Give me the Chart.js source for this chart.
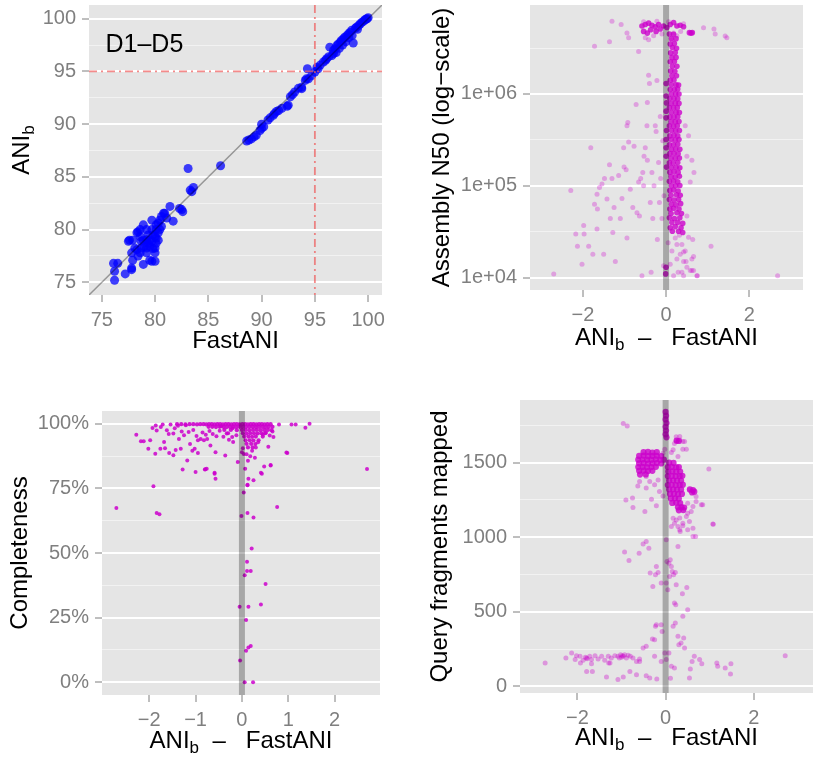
<!DOCTYPE html>
<html>
<head>
<meta charset="utf-8">
<script src="https://cdn.jsdelivr.net/npm/chart.js@4.4.0/dist/chart.umd.min.js"></script>
<style>
  html, body { margin: 0; padding: 0; background: #fff; }
  #fig { position: relative; width: 817px; height: 757px; }
  #fig canvas { position: absolute; }
</style>
</head>
<body>
<div id="fig">
  <canvas id="pA" width="410" height="378" style="left:0;top:0"></canvas>
  <canvas id="pB" width="407" height="378" style="left:410px;top:0"></canvas>
  <canvas id="pC" width="410" height="379" style="left:0;top:378px"></canvas>
  <canvas id="pD" width="407" height="379" style="left:410px;top:378px"></canvas>
</div>
<script>
// ---- data ----

// panel A: FastANI vs ANIb, pairs [FastANI, ANIb]
const aniPoints = [
  [76.2,75.2],[76.2,76.05],[76.1,76.8],[76.5,76.8],[77.2,75.8],[77.5,78.9],[77.8,76.35],[77.9,77.1],
  [78.3,78.1],[78.3,79.7],[78.6,80.0],[78.9,80.45],[78.9,76.7],[79.2,77.8],[79.5,79.0],[79.7,80.0],
  [79.7,77.0],[79.8,78.2],[80.0,79.35],[80.1,78.7],[80.3,79.7],[80.45,80.9],[80.8,81.55],[81.1,81.1],
  [81.4,82.2],[81.7,80.8],[80.0,77.8],[79.35,78.7],[78.7,78.25],[77.9,79.0],[78.4,77.5],[80.1,80.0],
  [79.7,80.9],[79.5,77.1],[79.2,79.03],[79.35,79.5],[78.9,79.0],[79.0,78.4],[79.5,78.4],[79.7,78.9],
  [79.8,79.5],[80.1,79.2],[80.3,79.0],[80.0,78.25],[79.2,78.25],[78.6,77.8],[78.7,78.9],[78.1,78.25],
  [77.8,77.8],[80.1,80.45],[80.45,80.0],[80.6,80.3],[79.2,80.0],[78.6,79.35],[80.0,77.0],[77.8,76.2],
  [78.4,79.8],[80.6,81.25],[80.9,81.55],[80.3,80.6],[77.6,79.0],
  [83.1,85.8],[86.15,86.06],[83.3,83.75],[83.6,84.0],[83.45,83.6],[82.3,82.0],[82.6,81.7],[82.5,81.9],
  [88.6,88.4],[88.8,88.5],[89.05,88.6],[89.3,88.8],[89.5,88.95],[89.85,89.4],[90.0,89.6],[90.2,89.75],
  [90.0,90.0],[90.6,90.4],[90.8,90.6],[91.1,90.85],[91.2,91.0],[91.4,91.2],[91.6,91.3],[91.9,91.5],
  [92.5,91.8],[92.4,91.7],[92.7,92.6],[92.9,92.8],[93.1,93.05],[93.45,93.4],[93.75,93.5],[93.77,93.37],
  [94.1,94.15],[94.2,94.3],[94.4,94.3],[94.3,95.25],[94.7,94.6],[95.0,94.95],[95.3,95.25],[95.2,95.4],
  [95.5,95.6],[95.8,95.9],[96.0,96.05],[96.1,96.2],[96.3,96.4],[96.4,97.3],[96.75,96.7],[96.75,97.0],
  [96.9,97.15],[97.05,97.45],[97.2,97.6],[97.4,97.8],[97.5,97.95],[97.7,98.1],[97.8,98.25],[98.0,98.4],
  [98.15,98.55],[98.3,98.7],[98.45,98.9],[98.6,97.7],[98.8,99.1],[98.9,99.2],[99.1,99.35],[99.25,99.5],
  [99.4,99.65],[99.55,99.75],[99.7,99.9],[99.9,100.0],[100.0,100.1],[99.8,99.95],[97.0,96.8],[97.3,97.2],
  [97.9,97.8],[98.2,98.2],[98.5,98.4],[99.0,99.0],[96.6,96.5],[97.6,97.5]
];
const aniCutoff = 95;
const aniTicks = [75, 80, 85, 90, 95, 100];
const aniMinor = [77.5, 82.5, 87.5, 92.5, 97.5];

// panel B: ANIb - FastANI vs assembly N50, pairs [diff, N50]
const n50Sparse = [
  [-2.70,1.1e4],[-2.29,8.9e4],[-2.17,3.0e4],[-2.13,2.2e4],[-2.02,1.4e4],[-1.98,3.7e4],[-1.97,3.0e4],[-1.86,2.2e4],
  [-1.81,2.6e5],[-1.76,1.8e4],[-1.72,6.3e4],[-1.66,3.4e4],[-1.65,5.6e4],[-1.60,9.6e4],[-1.50,1.8e4],[-1.48,1.2e5],
  [-1.42,7.2e4],[-1.36,1.7e5],[-1.34,4.4e4],[-1.30,1.2e5],[-1.28,3.1e4],[-1.25,5.8e4],[-1.22,1.5e4],[-1.14,1.3e5],
  [-1.10,4.4e4],[-1.06,7.3e4],[-1.01,1.6e5],[-0.96,1.5e5],[-0.94,4.5e5],[-0.92,4.9e5],[-0.94,2.7e4],[-0.90,3.0e5],
  [-0.86,9.2e4],[-0.80,5.8e4],[-0.77,2.7e5],[-0.72,7.7e5],[-0.70,5.1e4],[-0.64,4.7e4],[-0.61,1.2e5],[-0.58,1.05e4],
  [-0.56,1.4e5],[-0.53,2.1e5],[-0.50,2.6e5],[-0.46,4.5e5],[-0.45,8.1e5],[-0.42,1.6e6],[-0.40,1.3e6],[-0.45,1.9e5],
  [-0.38,6.6e4],[-0.36,1.15e4],[-0.34,1.4e5],[-0.32,4.4e4],[-0.29,1.0e5],[-0.26,4.5e5],[-0.24,3.9e5],[-0.22,1.4e6],
  [-0.21,2.6e4],[-0.18,1.8e5],[-0.16,6.6e4],[-0.14,5.7e5],[-0.13,1.2e5],[-0.10,4.4e4],[-0.08,3.1e5],[-0.06,1.35e4],
  [-0.05,7.8e4],[-1.02,2.6e5],[-0.66,1.1e5],[-0.54,1.0e5],[-1.66,8.1e4],[-1.54,1.05e5],
  [-1.30,6.2e6],[-1.08,5.7e6],[-1.36,3.7e6],[-1.72,3.3e6],[-0.94,4.6e6],[-0.90,4.1e6],[-0.66,2.9e6],[0.90,5.25e6],
  [1.15,5.1e6],[1.18,4.5e6],[1.42,4.27e6],[1.46,4.1e6],[0.42,5.8e6],
  [-0.50,4.1e6],[-0.42,3.9e6],[-0.30,4.3e6],[-0.10,4.5e6],[0.18,4.6e6],[0.26,4.3e6],[0.14,3.9e6],[0.35,4.8e6],
  [-0.54,6.1e6],[-0.22,6.2e6],[0.06,6.1e6],
  [0.54,3.5e5],[0.62,1.9e5],[0.67,1.4e5],[0.58,1.1e5],[0.50,4.7e4],[0.64,2.6e4],[0.66,1.7e4],[0.62,1.2e4],
  [0.75,1.05e4],[1.08,2.2e4],[2.68,1.05e4],[0.48,1.5e4],[0.42,1.9e4],[0.38,1.15e4],[0.50,2.1e5],[0.46,4.5e5],
  [0.26,2.3e4],[0.34,1.8e4],[0.42,1.5e4],[0.50,1.3e4],[0.58,1.2e4],[0.29,1.15e4],[0.18,1.05e4],[0.10,1.4e4],
  [0.14,1.95e4],[0.26,1.6e4],[0.38,2.3e4],[0.46,1.95e4],[0.62,1.6e4],[0.74,1.05e4],[0.66,1.2e4],[0.54,2.75e4],
  [0.42,1.05e4],[0.22,2.7e4],[0.05,2.4e4],[0.32,2.9e4]
];
const n50Dense = [
  [0.15,3.2e4],[0.30,3.2e4],[0.40,3.1e4],[0.10,3.5e4],[0.22,3.6e4],[0.36,3.5e4],[0.14,4.0e4],[0.28,4.0e4],
  [0.40,3.9e4],[0.08,4.5e4],[0.20,4.4e4],[0.33,4.5e4],[0.12,5.0e4],[0.26,5.1e4],[0.37,5.0e4],[0.09,5.6e4],
  [0.18,5.7e4],[0.31,5.6e4],[0.13,6.3e4],[0.24,6.2e4],[0.35,6.4e4],[0.08,7.1e4],[0.19,7.0e4],[0.30,7.1e4],
  [0.12,7.9e4],[0.25,8.0e4],[0.34,7.9e4],[0.09,8.9e4],[0.18,9.0e4],[0.29,8.8e4],[0.13,1.0e5],[0.23,1.0e5],
  [0.33,1.01e5],[0.08,1.12e5],[0.18,1.13e5],[0.28,1.11e5],[0.12,1.26e5],[0.22,1.25e5],[0.32,1.27e5],[0.09,1.41e5],
  [0.19,1.42e5],[0.29,1.40e5],[0.13,1.58e5],[0.24,1.59e5],[0.33,1.57e5],[0.08,1.78e5],[0.17,1.77e5],[0.28,1.79e5],
  [0.12,2.0e5],[0.22,2.0e5],[0.32,2.01e5],[0.09,2.24e5],[0.19,2.25e5],[0.29,2.23e5],[0.13,2.5e5],[0.23,2.52e5],
  [0.33,2.5e5],[0.08,2.8e5],[0.18,2.8e5],[0.28,2.83e5],[0.12,3.2e5],[0.22,3.15e5],[0.31,3.2e5],[0.09,3.5e5],
  [0.19,3.56e5],[0.28,3.5e5],[0.13,4.0e5],[0.23,3.98e5],[0.32,4.0e5],[0.08,4.5e5],[0.18,4.46e5],[0.27,4.5e5],
  [0.12,5.0e5],[0.22,5.0e5],[0.31,5.02e5],[0.09,5.6e5],[0.19,5.6e5],[0.28,5.65e5],[0.13,6.3e5],[0.24,6.3e5],
  [0.32,6.28e5],[0.08,7.1e5],[0.18,7.08e5],[0.27,7.1e5],[0.12,7.9e5],[0.22,7.95e5],[0.31,7.9e5],[0.09,8.9e5],
  [0.19,8.9e5],[0.28,8.85e5],[0.13,1.0e6],[0.23,1.0e6],[0.31,1.0e6],[0.10,1.12e6],[0.20,1.12e6],[0.28,1.13e6],
  [0.13,1.26e6],[0.24,1.26e6],[0.30,1.25e6],[0.10,1.41e6],[0.19,1.42e6],[0.14,1.58e6],[0.25,1.58e6],[0.11,1.78e6],
  [0.21,1.77e6],[0.15,2.0e6],[0.26,2.0e6],[0.10,2.24e6],[0.20,2.25e6],[0.14,2.5e6],[0.24,2.5e6],[0.11,2.8e6],
  [0.22,2.82e6],[0.15,3.2e6],[0.25,3.15e6],[0.10,3.5e6],[0.20,3.55e6],[0.13,4.0e6],[0.24,4.0e6],[0.08,4.5e6],
  [0.18,4.47e6],
  [-0.58,5.5e6],[-0.50,5.7e6],[-0.42,5.9e6],[-0.34,5.6e6],[-0.26,5.4e6],[-0.18,5.7e6],[-0.54,4.8e6],[-0.45,4.6e6],
  [-0.37,5.0e6],[-0.24,4.8e6],[-0.14,5.1e6],[-0.06,5.5e6],[0.02,5.3e6],[0.10,5.7e6],[0.18,6.0e6],[0.26,5.5e6],
  [0.34,5.6e6],[0.42,5.4e6],[0.56,4.65e6],[0.60,4.6e6],[0.63,4.65e6],
  [0.0,1.3e6],[0.0,9.5e5],[0.01,8.0e5],[0.0,6.5e5],[0.0,5.5e5],[0.01,4.0e5],[0.0,3.2e5],[0.0,2.6e5],
  [0.0,2.1e5],[0.01,1.6e5],[-0.01,1.1e4],[0.0,1.3e4]
];
const diffTicks = [-2, 0, 2];
const n50Ticks = [1e4, 1e5, 1e6];
const n50Minor = [31623, 316228, 3162278];

// panel C: ANIb - FastANI vs completeness (%), pairs [diff, completeness]
const compSparse = [
  [-2.28,95.7],[-2.18,93.2],[-2.12,93.2],[-1.98,93.6],[-2.02,90.3],[-1.87,88.4],[-1.93,98.3],[-1.86,99.3],
  [-1.84,97.4],[-1.75,98.7],[-1.71,99.7],[-1.76,90.3],[-1.68,92.9],[-1.66,90.5],[-1.57,88.7],[-1.54,99.7],
  [-1.48,96.2],[-1.48,87.8],[-1.43,89.8],[-1.38,99.2],[-1.36,94.1],[-1.32,90.3],[-1.28,82.3],[-1.21,99.4],
  [-1.18,85.8],[-1.12,92.1],[-1.07,89.5],[-1.02,90.3],[-1.0,81.3],[-0.95,88.7],[-0.95,93.6],[-0.89,94.1],
  [-0.82,93.6],[-0.80,82.3],[-0.76,82.6],[-0.75,94.1],[-0.68,91.6],[-0.59,80.6],[-0.57,78.7],[-0.57,89.0],
  [-0.36,87.7],[-0.21,94.8],[-0.19,92.9],[-0.09,85.2],[0.0,89.0],[0.02,90.5],[0.04,88.3],[0.07,82.6],
  [0.13,85.7],[0.14,78.7],[0.25,78.1],[0.12,76.2],[0.43,80.6],[0.48,83.4],[0.57,91.1],[0.62,83.8],
  [0.98,88.7],[0.80,99.7],[1.07,99.7],[1.16,99.7],[1.37,98.4],[1.46,100.0],[2.70,82.5],[-1.91,75.8],
  [0.68,94.8],[-2.71,67.4],[-1.84,65.5],[-1.78,65.0],[0.76,67.8],[-0.01,64.3],[0.12,65.5],[0.25,63.7],
  [0.04,73.4],[0.12,76.4],[0.21,51.7],[0.11,46.6],[0.11,43.0],[0.19,43.0],[0.06,41.4],[0.51,38.0],
  [0.41,30.1],[-0.05,29.2],[0.14,29.2],[0.09,24.1],[0.19,14.0],[0.14,13.5],[0.09,12.2],[-0.04,8.4],
  [0.06,0.0],[0.24,0.0],[0.41,81.0],[0.62,84.0],[-0.79,82.4],[-0.59,81.0],[0.96,88.9],
  [-1.62,97.5],[-1.58,96.0],[-1.45,98.2],[-1.30,97.0],[-1.25,95.5],[-1.15,96.8],[-1.05,97.6],[-0.98,95.2],
  [-0.85,96.6],[-0.78,95.7],[-0.70,97.2],[-0.63,96.0],[-0.55,95.1],[-0.48,97.3],[-0.40,94.9],[-0.33,96.2],
  [-0.28,93.8],[-0.12,95.5],[0.45,95.8],[0.52,96.5],[0.60,95.4],[0.66,97.0],[0.35,92.8],[0.30,90.8],
  [0.22,89.5],[0.18,87.4],[0.28,86.8],[0.10,88.2],[-0.20,98.2],[-0.45,99.0]
];
const compDense = [
  [-1.40,99.8],[-1.31,99.8],[-1.22,99.7],[-1.13,99.8],[-1.05,99.8],[-0.97,99.7],[-0.90,99.8],[-0.83,99.8],
  [-0.77,99.7],[-0.71,99.8],[-0.65,99.8],[-0.59,99.7],[-0.53,99.8],[-0.47,99.8],[-0.41,99.7],[-0.35,99.8],
  [-0.29,99.8],[-0.23,99.7],[-0.17,99.8],[-0.11,99.8],[-0.05,99.7],[0.01,99.8],[0.07,99.8],[0.13,99.7],
  [0.19,99.8],[0.25,99.8],[0.31,99.7],[0.37,99.8],[0.43,99.8],[0.49,99.7],[0.55,99.8],[0.62,99.8],
  [-0.72,98.8],[-0.64,98.8],[-0.56,98.7],[-0.48,98.8],[-0.40,98.8],[-0.33,98.7],[-0.26,98.8],[-0.19,98.8],
  [-0.12,98.7],[-0.05,98.8],[0.02,98.8],[0.09,98.7],[0.16,98.8],[0.23,98.8],[0.30,98.7],[0.37,98.8],
  [0.44,98.8],[0.51,98.7],[0.58,98.8],[0.66,98.8],
  [-0.38,97.6],[-0.24,97.6],[-0.11,97.5],[0.0,97.6],[0.08,97.6],[0.16,97.5],[0.24,97.6],[0.32,97.6],
  [0.40,97.5],[0.48,97.6],[0.56,97.6],[0.64,97.5],
  [-0.30,96.3],[0.02,96.3],[0.10,96.2],[0.18,96.3],[0.26,96.3],[0.34,96.2],[0.42,96.3],[0.50,96.3],
  [0.05,95.0],[0.14,95.0],[0.22,94.9],[0.30,95.0],[0.45,95.0],
  [0.08,93.6],[0.17,93.6],[0.25,93.5],[0.36,93.6],[0.10,92.2],[0.20,92.2],[0.29,92.1],[0.13,90.8],[0.23,90.8]
];
const compDiffTicks = [-2, -1, 0, 1, 2];
const compTicks = [0, 25, 50, 75, 100];
const compMinor = [12.5, 37.5, 62.5, 87.5];

// panel D: ANIb - FastANI vs query fragments mapped, pairs [diff, fragments]
const fragSparse = [
  [-0.96,1763],[-0.87,1745],[0.24,1674],[0.32,1652],[0.39,1641],[0.20,1629],[0.98,1458],[1.08,1087],
  [0.84,1217],[0.68,1004],[0.62,1060],[0.54,1105],[0.39,1094],[0.33,1038],[0.24,1116],[0.17,1127],
  [0.28,1071],[0.47,1138],[0.58,1172],[0.69,1272],[0.50,1228],[0.015,982],[-0.44,971],[-0.38,926],
  [-0.60,893],[-0.93,900],[-0.83,844],[-0.21,804],[-0.17,763],[-0.35,759],[-0.23,748],[-0.29,670],
  [-0.10,692],[0.03,837],[0.075,826],[0.105,848],[0.13,804],[0.15,770],[0.18,748],[0.22,763],
  [0.09,737],[0.015,692],[0.05,647],[0.24,681],[0.48,663],[0.38,621],[0.20,558],[0.23,547],
  [0.50,513],[0.39,469],[0.22,424],[0.17,402],[-0.23,402],[-0.21,413],[-0.30,317],[-0.25,312],
  [-0.10,413],[-0.08,368],[0.28,335],[0.41,324],[0.35,290],[0.43,257],[0.30,279],[0.075,223],
  [0.015,179],[0.13,134],[0.20,123],[-0.10,167],[-0.02,223],[-0.44,268],[-0.51,257],[-0.25,201],
  [-0.59,167],[-0.66,78],[-0.44,71],[-0.36,56],[-0.20,49],[0.11,54],[0.54,56],[0.56,116],
  [0.65,201],[0.60,167],[0.77,179],[0.82,152],[1.16,156],[1.18,134],[1.35,123],[1.48,152],
  [1.47,83],[2.71,205],[-2.73,156],[-2.13,223],[-2.02,205],[-2.26,190],
  [-2.05,179],[-1.94,201],[-1.87,174],[-1.79,190],[-1.72,201],[-1.68,179],[-1.60,205],[-1.53,183],
  [-1.45,201],[-1.38,174],[-1.30,201],[-1.26,156],[-1.23,190],[-1.15,205],[-1.08,201],[-1.02,212],
  [-0.96,201],[-0.93,212],[-0.89,190],[-0.85,208],[-0.80,201],[-0.74,190],[-0.66,167],[-0.59,183],
  [-1.93,156],[-1.79,100],[-1.34,62],[-0.96,62],[-1.08,45],[-0.81,100],[-1.29,156],[-1.68,152],
  [-1.66,100],[-1.0,195],[-0.98,205],[-1.05,190],[-1.78,185],[-1.82,195],
  [0.24,1641],[0.32,1675],[0.43,1641],[0.17,1586],[0.39,1590],[0.47,1590],[0.28,1541],[0.13,1568],
  [-0.59,1373],[-0.63,1344],[-0.44,1329],[-0.36,1373],[-0.25,1351],[-0.14,1306],[-0.32,1255],[-0.21,1210],
  [-0.90,1250],[-0.75,1262],[-0.74,1199],[-0.47,1172],[-0.06,1277],[-0.17,1384],[-0.44,1407],[0.54,1317],
  [0.69,1239],[0.81,1217],[0.62,1206],[0.50,1161],[0.32,1128],[0.20,1094],[0.39,1076],[0.50,1049],
  [0.62,1005],[0.32,1049],[0.13,1071],[1.07,1088],[0.28,938],[-0.06,1563],[-0.02,1590],[-0.51,955]
];
const fragDense = [
  [-0.50,1570],[-0.40,1572],[-0.30,1568],[-0.20,1570],
  [-0.60,1545],[-0.50,1547],[-0.40,1543],[-0.30,1545],[-0.20,1546],[-0.10,1544],
  [-0.62,1520],[-0.52,1521],[-0.42,1519],[-0.32,1520],[-0.22,1522],[-0.12,1519],[-0.04,1520],
  [-0.60,1495],[-0.50,1496],[-0.40,1494],[-0.30,1495],[-0.20,1497],[-0.10,1494],
  [-0.62,1470],[-0.52,1471],[-0.42,1469],[-0.32,1470],[-0.22,1472],
  [-0.60,1445],[-0.50,1446],[-0.40,1444],[-0.30,1445],[-0.58,1420],[-0.45,1421],
  [0.08,1500],[0.18,1498],
  [0.05,1470],[0.14,1471],[0.24,1469],[0.30,1470],
  [0.06,1440],[0.15,1441],[0.24,1439],[0.33,1440],
  [0.05,1410],[0.14,1411],[0.23,1409],[0.32,1410],[0.38,1412],
  [0.08,1380],[0.17,1381],[0.26,1379],[0.35,1380],
  [0.05,1350],[0.14,1351],[0.23,1349],[0.32,1350],[0.39,1352],
  [0.08,1320],[0.17,1321],[0.26,1319],[0.35,1320],
  [0.10,1290],[0.19,1291],[0.28,1289],[0.37,1290],
  [0.12,1260],[0.21,1261],[0.30,1259],
  [0.15,1230],[0.24,1231],[0.33,1229],
  [0.28,1200],[0.36,1201],[0.42,1199],[0.30,1180],[0.40,1182],
  [0.55,1320],[0.62,1315],[0.60,1300],[0.65,1305],[0.25,1648],[0.30,1645],
  [0.0,1840],[0.01,1815],[0.0,1790],[0.02,1765],[0.0,1740],[0.01,1715],[0.0,1690],[0.02,1670]
];
const fragTicks = [0, 500, 1000, 1500];
const fragMinor = [250, 750, 1250, 1750];

// ---- styling helpers ----
const FONT = '"Liberation Sans", Arial, Helvetica, sans-serif';
Chart.defaults.font.family = FONT;

const minusFmt = v => (v < 0 ? '\u2212' + (-v) : String(v));

function makeScale(axis, o) {
  const majors = new Set(o.major);
  const all = [...o.major, ...(o.minor || [])].sort((a, b) => a - b);
  const isMajor = c => c.tick && majors.has(c.tick.value);
  return {
    type: o.log ? 'logarithmic' : 'linear',
    min: o.min, max: o.max,
    border: { display: false },
    afterBuildTicks: s => { s.ticks = all.map(v => ({ value: v })); },
    afterFit: s => {
      if (axis === 'x') s.height = o.size; else s.width = o.size;
      // keep the plot box where it is: no extra room for edge labels
      s.paddingTop = s.paddingBottom = s.paddingLeft = s.paddingRight = 0;
    },
    ticks: {
      autoSkip: false, maxRotation: 0, minRotation: 0,
      color: '#7F7F7F', font: { family: FONT, size: 20 }, padding: 6,
      callback: v => (majors.has(v) ? o.fmt(v) : '')
    },
    grid: {
      drawOnChartArea: !!o.grid,
      color: c => (isMajor(c) ? '#FFFFFF' : '#F2F2F2'),
      lineWidth: c => (isMajor(c) ? 2 : 1),
      tickColor: c => (isMajor(c) ? '#7F7F7F' : 'rgba(0,0,0,0)'),
      tickLength: 7, tickWidth: 1
    }
  };
}

function drawRuns(ctx, runs, cx, base, rotate) {
  const parts = runs.map(r => {
    const size = r.sub ? 17 : 24;
    ctx.font = size + 'px ' + FONT;
    return { t: r.t, size, w: ctx.measureText(r.t).width, dy: r.sub ? 5 : 0 };
  });
  const total = parts.reduce((s, p) => s + p.w, 0);
  ctx.save();
  if (rotate) { ctx.translate(base, cx); ctx.rotate(-Math.PI / 2); }
  else { ctx.translate(cx, base); }
  ctx.fillStyle = '#000';
  ctx.textBaseline = 'alphabetic';
  ctx.textAlign = 'left';
  let x = -total / 2;
  parts.forEach(p => {
    ctx.font = p.size + 'px ' + FONT;
    ctx.fillText(p.t, x, p.dy);
    x += p.w;
  });
  ctx.restore();
}

const ggDecor = {
  id: 'ggDecor',
  beforeDraw(chart) {
    const { ctx, chartArea: a } = chart;
    ctx.save();
    ctx.fillStyle = '#E5E5E5';
    ctx.fillRect(a.left, a.top, a.right - a.left, a.bottom - a.top);
    ctx.restore();
  },
  afterDatasetsDraw(chart, args, o) {
    const { ctx, chartArea: a, scales: { x, y } } = chart;
    ctx.save();
    ctx.beginPath();
    ctx.rect(a.left, a.top, a.right - a.left, a.bottom - a.top);
    ctx.clip();
    (o.lines || []).forEach(l => {
      ctx.strokeStyle = l.color;
      ctx.lineWidth = l.width;
      ctx.setLineDash(l.dash || []);
      ctx.beginPath();
      if (l.v !== undefined) {
        const px = x.getPixelForValue(l.v);
        ctx.moveTo(px, a.top); ctx.lineTo(px, a.bottom);
      } else if (l.h !== undefined) {
        const py = y.getPixelForValue(l.h);
        ctx.moveTo(a.left, py); ctx.lineTo(a.right, py);
      } else if (l.identity) {
        ctx.moveTo(x.getPixelForValue(x.min), y.getPixelForValue(x.min));
        ctx.lineTo(x.getPixelForValue(x.max), y.getPixelForValue(x.max));
      }
      ctx.stroke();
    });
    ctx.restore();
    if (o.label) {
      ctx.save();
      ctx.font = '25px ' + FONT;
      ctx.fillStyle = '#000';
      ctx.textAlign = 'center';
      ctx.textBaseline = 'alphabetic';
      ctx.fillText(o.label.text, x.getPixelForValue(o.label.x), y.getPixelForValue(o.label.y));
      ctx.restore();
    }
  },
  afterDraw(chart, args, o) {
    const { ctx, chartArea: a } = chart;
    if (o.xTitle) drawRuns(ctx, o.xTitle.runs, (a.left + a.right) / 2, o.xTitle.base, false);
    if (o.yTitle) drawRuns(ctx, o.yTitle.runs, (a.top + a.bottom) / 2, o.yTitle.base, true);
  }
};

const diffRuns = [{ t: 'ANI' }, { t: 'b', sub: true }, { t: '  \u2013   FastANI' }];

function pts(list) { return list.map(p => ({ x: p[0], y: p[1] })); }

function scatter(id, datasets, scales, padding, decor) {
  return new Chart(document.getElementById(id), {
    type: 'scatter',
    data: { datasets },
    options: {
      responsive: false, animation: false, events: [],
      layout: { padding },
      scales,
      plugins: { legend: { display: false }, tooltip: { enabled: false }, ggDecor: decor }
    },
    plugins: [ggDecor]
  });
}

// panel A
scatter('pA', [
  { data: pts(aniPoints), pointRadius: 4.5, borderWidth: 0, backgroundColor: 'rgba(0,0,255,0.75)' }
], {
  x: makeScale('x', { min: 73.8, max: 101.3, major: aniTicks, fmt: String, size: 83 }),
  y: makeScale('y', { min: 73.8, max: 101.3, major: aniTicks, minor: aniMinor, fmt: String, grid: true, size: 89 })
}, { left: 0, right: 28, top: 5, bottom: 0 }, {
  lines: [
    { identity: true, color: 'rgba(0,0,0,0.35)', width: 1.5 },
    { v: aniCutoff, color: 'rgba(240,90,90,0.7)', width: 1.8, dash: [8, 4, 2, 4] },
    { h: aniCutoff, color: 'rgba(240,90,90,0.7)', width: 1.8, dash: [8, 4, 2, 4] }
  ],
  label: { text: 'D1\u2013D5', x: 79.0, y: 96.8 },
  xTitle: { runs: [{ t: 'FastANI' }], base: 348 },
  yTitle: { runs: [{ t: 'ANI' }, { t: 'b', sub: true }], base: 29 }
});

// panel B
scatter('pB', [
  { data: pts(n50Dense), pointRadius: 2.8, borderWidth: 0, backgroundColor: 'rgba(204,0,204,0.8)' },
  { data: pts(n50Sparse), pointRadius: 2.5, borderWidth: 0, backgroundColor: 'rgba(204,0,204,0.3)' }
], {
  x: makeScale('x', { min: -3.27, max: 3.29, major: diffTicks, fmt: minusFmt, size: 88 }),
  y: makeScale('y', { log: true, min: 7350, max: 9.3e6, major: n50Ticks, minor: n50Minor,
    fmt: v => '1e+0' + Math.round(Math.log10(v)), grid: true, size: 120 })
}, { left: 0, right: 14, top: 5, bottom: 0 }, {
  lines: [{ v: 0, color: 'rgba(0,0,0,0.27)', width: 6 }],
  xTitle: { runs: diffRuns, base: 345 },
  yTitle: { runs: [{ t: 'Assembly N50 (log\u2212scale)' }], base: 39 }
});

// panel C
scatter('pC', [
  { data: pts(compDense), pointRadius: 2.1, borderWidth: 0, backgroundColor: 'rgba(204,0,204,0.9)' },
  { data: pts(compSparse), pointRadius: 2, borderWidth: 0, backgroundColor: 'rgba(204,0,204,0.85)' }
], {
  x: makeScale('x', { min: -3.02, max: 2.98, major: compDiffTicks, fmt: minusFmt, size: 62 }),
  y: makeScale('y', { min: -4.9, max: 104.9, major: compTicks, minor: compMinor, fmt: v => v + '%', grid: true, size: 102 })
}, { left: 0, right: 30, top: 33, bottom: 0 }, {
  lines: [{ v: 0, color: 'rgba(0,0,0,0.27)', width: 6 }],
  xTitle: { runs: diffRuns, base: 370 },
  yTitle: { runs: [{ t: 'Completeness' }], base: 27 }
});

// panel D
scatter('pD', [
  { data: pts(fragDense), pointRadius: 3.1, borderWidth: 0, backgroundColor: 'rgba(204,0,204,0.8)' },
  { data: pts(fragSparse), pointRadius: 2.5, borderWidth: 0, backgroundColor: 'rgba(204,0,204,0.35)' }
], {
  x: makeScale('x', { min: -3.3, max: 3.34, major: diffTicks, fmt: minusFmt, size: 64 }),
  y: makeScale('y', { min: -45, max: 1920, major: fragTicks, minor: fragMinor, fmt: String, grid: true, size: 110 })
}, { left: 0, right: 3, top: 22, bottom: 0 }, {
  lines: [{ v: 0, color: 'rgba(0,0,0,0.27)', width: 6 }],
  xTitle: { runs: diffRuns, base: 367 },
  yTitle: { runs: [{ t: 'Query fragments mapped' }], base: 37 }
});
</script>
</body>
</html>
